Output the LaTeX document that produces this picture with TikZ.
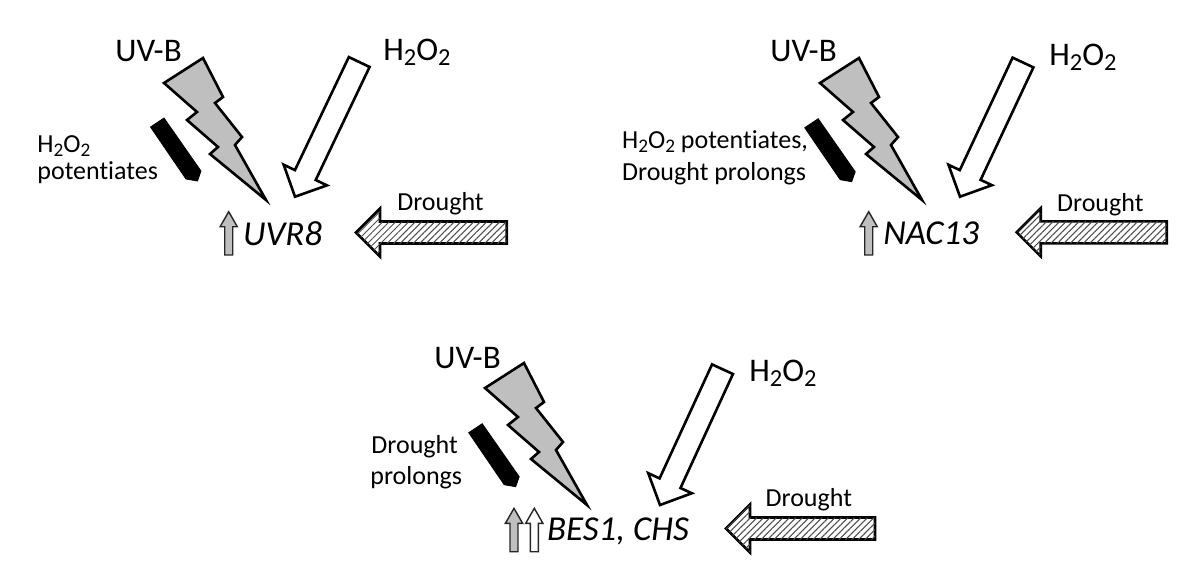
\documentclass[tikz,border=0pt]{standalone}
\usepackage{fontspec}
\setmainfont{Carlito}[Ligatures=NoCommon, RawFeature={-calt;-clig}]
\usetikzlibrary{calc,patterns.meta}
% block arrow: #1 style, #2 tail, #3 tip, #4 head length, #5 head half-width, #6 shaft half-width
\newcommand\blkarrow[6]{%
  \coordinate (bahead) at ($(#3)!#4!(#2)$);
  \draw[#1] (#3) -- ($(bahead)!#5!90:(#2)$) -- ($(bahead)!#6!90:(#2)$)
    -- ($(#2)!#6!-90:(bahead)$) -- ($(#2)!#6!90:(bahead)$)
    -- ($(bahead)!#6!-90:(#2)$) -- ($(bahead)!#5!-90:(#2)$) -- cycle;}
\tikzset{
  bigtxt/.style={font=\fontsize{16.5}{19}\selectfont, inner sep=0pt, anchor=base west},
  gene/.style={font=\fontsize{17.5}{20}\selectfont\itshape, inner sep=0pt, anchor=base west},
  smalltxt/.style={font=\fontsize{13}{15}\selectfont, inner sep=0pt, anchor=base west},
  boltshape/.style={draw=black, fill=black!25, line width=1.3pt, line join=miter},
  barshape/.style={fill=black, draw=black, line width=0.4pt},
  hollowarrow/.style={draw=black, fill=white, line width=1.3pt, line join=miter},
  hatcharrow/.style={draw=black, line width=1.3pt, line join=miter, fill=white,
     postaction={pattern={Lines[angle=45,distance=2.3pt,line width=0.5pt]}, pattern color=black!70}},
  upgray/.style={draw=black!85, fill=black!25, line width=0.7pt},
  upwhite/.style={draw=black!85, fill=white, line width=0.7pt},
  boltpic/.pic={\draw[boltshape] (-63,-142) -- (-43,-103) -- (-51,-97) -- (-24,-63) -- (-31,-55) -- (0,0)
      -- (-56,-46) -- (-48,-53) -- (-79,-80) -- (-69,-88) -- (-102,-117) -- cycle;},
  barpic/.pic={\filldraw[barshape] (-47,-54) -- (-33.5,-63) -- (3.5,-10) -- (0,0) -- (-11.5,-2) -- cycle;}
}
\newcommand\subtwo{\raisebox{-0.38ex}{\scalebox{0.74}{2}}}
\newcommand\HtwoOtwo{H\subtwo O\subtwo}
\begin{document}
\begin{tikzpicture}[x=0.5pt, y=-0.5pt]
\path[use as bounding box] (0,0) rectangle (1200,585);

% ---------- Panel 1 ----------
\pic (bolt1) at (266,200) {boltpic};
\pic (bar1) at (197.5,181) {barpic};
\node[bigtxt] (uvb1) at (115,61.7) {UV-B};
\node[bigtxt] (hp1) at (383,60) {\HtwoOtwo};
\node[smalltxt] (pa1) at (37,152) {\HtwoOtwo};
\node[smalltxt] (pb1) at (37,179) {potentiates};
\node[smalltxt, anchor=base] (dr1) at (440.5,210) {Drought};
\node[gene] (uvr8) at (242.7,245) {UVR8};
\coordinate (h1t) at (359.2,62);  \coordinate (h1h) at (295,196.7);
\blkarrow{hollowarrow}{h1t}{h1h}{12pt}{12pt}{5.75pt}
\coordinate (d1t) at (506.7,232.5); \coordinate (d1h) at (356,232.5);
\blkarrow{hatcharrow}{d1t}{d1h}{12pt}{12pt}{5.5pt}
\coordinate (u1t) at (228.7,255); \coordinate (u1h) at (228.7,211.7);
\blkarrow{upgray}{u1t}{u1h}{7.5pt}{4.3pt}{2pt}

% ---------- Panel 2 ----------
\pic (bolt2) at (922,200) {boltpic};
\pic (bar2) at (851.7,181.7) {barpic};
\node[bigtxt] (uvb2) at (770,61.7) {UV-B};
\node[bigtxt] (hp2) at (1049,65) {\HtwoOtwo};
\node[smalltxt] (pa2) at (621.7,148) {\HtwoOtwo{} potentiates,};
\node[smalltxt] (pb2) at (621.7,180) {Drought prolongs};
\node[smalltxt, anchor=base] (dr2) at (1100.3,211.7) {Drought};
\node[gene] (nac13) at (883,244) {NAC13};
\coordinate (h2t) at (1023,62.5);  \coordinate (h2h) at (960,196.7);
\blkarrow{hollowarrow}{h2t}{h2h}{12pt}{12pt}{5.75pt}
\coordinate (d2t) at (1166.7,232.3); \coordinate (d2h) at (1016.7,232.3);
\blkarrow{hatcharrow}{d2t}{d2h}{12pt}{12pt}{5.5pt}
\coordinate (u2t) at (868.7,255); \coordinate (u2h) at (868.7,211.7);
\blkarrow{upgray}{u2t}{u2h}{7.5pt}{4.3pt}{2pt}

% ---------- Panel 3 ----------
\pic (bolt3) at (587,505) {boltpic};
\pic (bar3) at (515.7,486.7) {barpic};
\node[bigtxt] (uvb3) at (434,368) {UV-B};
\node[bigtxt] (hp3) at (749,381) {\HtwoOtwo};
\node[smalltxt] (pa3) at (371,453) {Drought};
\node[smalltxt] (pb3) at (370,484) {prolongs};
\node[smalltxt, anchor=base] (dr3) at (808.8,506) {Drought};
\node[gene] (bes) at (546.7,540.7) {BES1, CHS};
\coordinate (h3t) at (722.5,369.2);  \coordinate (h3h) at (660,505);
\blkarrow{hollowarrow}{h3t}{h3h}{12pt}{12pt}{5.75pt}
\coordinate (d3t) at (875,528.5); \coordinate (d3h) at (726,528.5);
\blkarrow{hatcharrow}{d3t}{d3h}{12pt}{12pt}{5.5pt}
\coordinate (u3at) at (514,551.7); \coordinate (u3ah) at (514,508.3);
\blkarrow{upgray}{u3at}{u3ah}{7.5pt}{4.3pt}{2pt}
\coordinate (u3bt) at (534.3,551.7); \coordinate (u3bh) at (534.3,508.3);
\blkarrow{upwhite}{u3bt}{u3bh}{7.5pt}{4.3pt}{2pt}
\end{tikzpicture}
\end{document}
